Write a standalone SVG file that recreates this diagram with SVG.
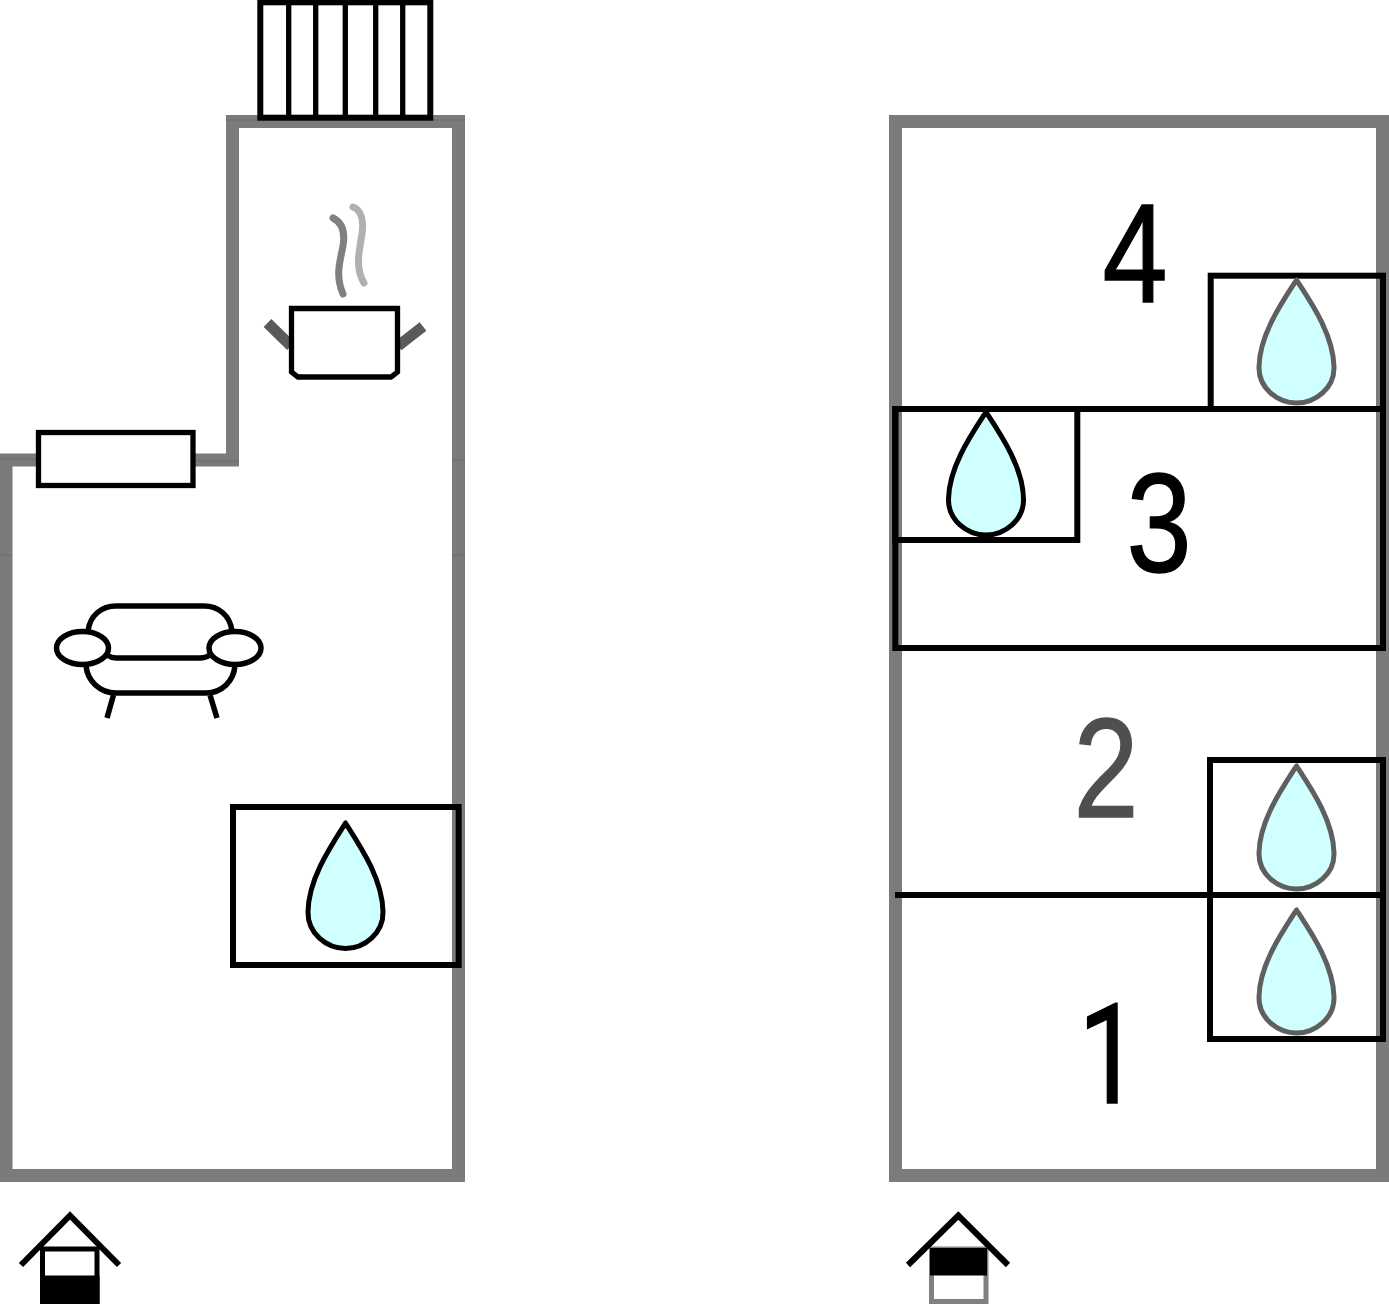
<svg xmlns="http://www.w3.org/2000/svg" width="1389" height="1304" viewBox="0 0 1389 1304">
<style>
.wall{fill:none;stroke:#7b7b7b;stroke-width:13;stroke-linejoin:miter}
.seam{fill:none;stroke:#6c6c6c;stroke-width:1}
.ln{fill:none;stroke:#000;stroke-width:5.5}
.box{fill:none;stroke:#000;stroke-width:6}
.wh{fill:#fff;stroke:#000;stroke-width:5.3}
.num{font-family:"Liberation Sans",Arial,sans-serif;font-size:141px;text-anchor:middle;fill:#000;stroke:#000;stroke-width:1.4}
.dropb{fill:#d0ffff;stroke:#000;stroke-width:5;stroke-linejoin:round}
.dropg{fill:#d0ffff;stroke:#5f5f5f;stroke-width:5;stroke-linejoin:round}
</style>
<defs>
<path id="drop" d="M0,2 C-15,25 -37,57 -37.5,89 C-38,110 -19,125 0,125 C19,125 38,110 37.5,89 C37,57 15,25 0,2Z"/>
</defs>
<rect width="1389" height="1304" fill="#fff"/>
<g id="plan-left">
<path id="walls-left" class="wall" d="M6,1175.5 V460 H232.5 V121.5 H458.5 V1175.5 Z"/>
<path class="seam" d="M0,555H12M452,555H465M452,460H465M0,459H36M195,461H239M226,120H258M433,120H465"/>
<g id="stairs"><rect class="box" x="260.3" y="2.3" width="170" height="115.4"/>
<path class="wh" d="M288.7,2V118M315.7,2V118M345.3,2V118M375.7,2V118M402.7,2V118"/></g>
<g id="kitchen">
<path fill="none" stroke="#5a5a5a" stroke-width="11" d="M267.5,323 L291,346M423,326.5 L398,346"/>
<path fill="none" stroke="#808080" stroke-width="7" stroke-linecap="round" d="M333,218 C343,223 345,234 343,246 C340,262 335,275 343,294"/>
<path fill="none" stroke="#b0b0b0" stroke-width="7" stroke-linecap="round" d="M353,207 C361,210 364,220 362,234 C359,252 355,268 364,283"/>
<path class="wh" d="M291.5,308.5 H397.5 V372 L391,377 H298 L291.5,372 Z"/>
</g>
<g id="window"><rect class="wh" x="38.5" y="432.5" width="154.5" height="53"/></g>
<g id="sofa">
<path class="ln" d="M88,631 C90,615 102,606 116,606 H204 C218,606 230,615 232,631"/>
<path class="ln" d="M107,655 C110,657 112,658 116,658 H200 C204,658 207,657 210,655"/>
<path class="ln" d="M86,665 C87,681 100,693 116,693 H206 C222,693 234,681 235,665"/>
<ellipse class="ln" cx="82.5" cy="648" rx="26" ry="16.5"/>
<ellipse class="ln" cx="235" cy="648" rx="26" ry="16.5"/>
<path class="ln" d="M113.5,695 L107,718M210,695 L217,718"/>
</g>
<g id="bath-left"><rect class="box" x="233" y="807" width="225.7" height="158"/>
<use href="#drop" class="dropb" transform="translate(345.5,821) scale(1,1.02)"/></g>
</g>
<g id="plan-right">
<rect id="walls-right" class="wall" x="895.5" y="121.5" width="487" height="1054"/>
<g id="room-3"><rect class="box" x="895.3" y="409" width="487.7" height="239"/>
<rect class="box" x="895.3" y="409" width="182" height="131"/>
<use href="#drop" class="dropb" x="986" y="410"/>
<text class="num" transform="translate(1159,572) scale(.83,1)">3</text></g>
<g id="room-4"><rect class="box" x="1210.7" y="275.7" width="172.3" height="133.3"/>
<use href="#drop" class="dropg" x="1296.5" y="278"/>
<text class="num" transform="translate(1135,302.3) scale(.83,1)">4</text></g>
<g id="room-2"><path class="box" d="M895,895 H1383"/>
<rect class="box" x="1210" y="760" width="173" height="279"/>
<use href="#drop" class="dropg" x="1296.5" y="764"/>
<text class="num" transform="translate(1106,816.5) scale(.83,1)" style="fill:#4f4f4f;stroke:#4f4f4f">2</text></g>
<g id="room-1">
<use href="#drop" class="dropg" x="1296.5" y="908"/>
<text class="num" transform="translate(1109,1102.7) scale(.78,1)" style="font-family:Roboto,sans-serif;font-size:139px;stroke-width:1.6">1</text></g>
</g>
<g id="house-left">
<rect x="42.5" y="1249" width="54.5" height="53" fill="#fff" stroke="#000" stroke-width="5"/>
<rect x="40" y="1275.5" width="59.5" height="28.5" fill="#000"/>
<path class="box" d="M21,1265 L70,1215.5 L119,1265"/>
</g>
<g id="house-right">
<rect x="931.5" y="1249" width="54.5" height="52.5" fill="#fff" stroke="#808080" stroke-width="5"/>
<rect x="930" y="1248" width="57" height="27.5" fill="#000"/>
<path class="box" d="M908,1265 L958.3,1215.5 L1008,1265"/>
</g>
</svg>
